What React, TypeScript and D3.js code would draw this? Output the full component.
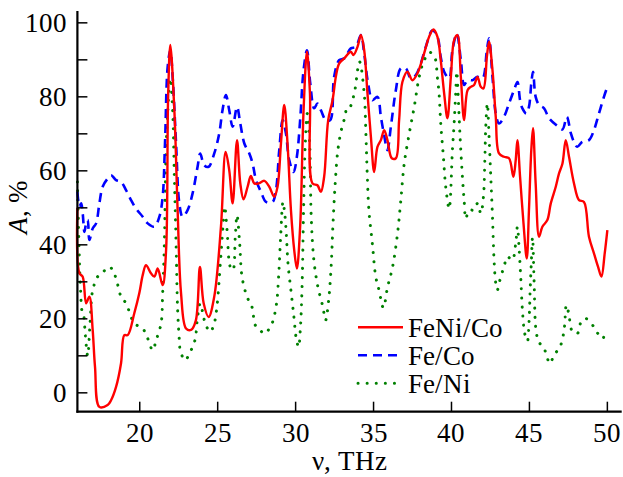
import React from "react";
import { scaleLinear, line, curveCatmullRom } from "d3";

// FeNi/Co absorption
const feNiCoNu = [16.0, 16.13, 16.34, 16.56, 16.77, 16.98, 17.13, 17.41, 17.94, 18.16, 18.48, 18.8, 19.01, 19.23, 19.65, 19.97, 20.19, 20.4, 20.72, 20.94, 21.15, 21.47, 21.69, 21.82, 21.96, 22.22, 22.43, 22.65, 22.97, 23.29, 23.6, 23.86, 24.1, 24.42, 24.78, 25.21, 25.51, 25.74, 25.96, 26.24, 26.45, 26.66, 26.92, 27.13, 27.35, 27.62, 27.99, 28.31, 28.63, 28.84, 29.06, 29.27, 29.48, 29.7, 29.91, 30.08, 30.29, 30.51, 30.73, 30.92, 31.08, 31.4, 31.62, 31.83, 32.09, 32.37, 32.58, 32.79, 33.12, 33.54, 33.71, 33.97, 34.19, 34.4, 34.61, 34.83, 35.04, 35.25, 35.47, 35.68, 35.89, 36.17, 36.43, 36.64, 36.85, 37.17, 37.49, 37.81, 38.24, 38.56, 38.84, 39.1, 39.31, 39.53, 39.74, 39.96, 40.17, 40.38, 40.6, 40.81, 41.03, 41.24, 41.45, 41.67, 41.88, 42.05, 42.27, 42.41, 42.63, 42.84, 43.05, 43.37, 43.69, 43.97, 44.12, 44.23, 44.4, 44.62, 44.83, 44.97, 45.12, 45.23, 45.4, 45.62, 45.83, 46.15, 46.37, 46.69, 46.9, 47.12, 47.33, 47.54, 47.86, 48.18, 48.5, 48.82, 49.14, 49.4, 49.62, 49.83, 50.0];
const feNiCoA = [50, 32.3, 31.4, 24.2, 26, 17, 7, -3.8, -3.3, -2, 1.6, 8, 15.6, 15.6, 21.5, 26.9, 31.8, 34.5, 32.3, 31.4, 33.6, 29.1, 38.6, 80, 94, 76.4, 49.4, 26.9, 17.4, 17, 19.6, 34, 24.2, 20.5, 26, 44.9, 65.1, 60.2, 51.2, 68.3, 56.6, 52.3, 55.7, 58.6, 56.6, 56.6, 57.3, 55.7, 53, 55.7, 67.4, 77.8, 67.4, 49.4, 38.6, 33.6, 44.9, 76.4, 92.2, 80.9, 56.6, 56.1, 54.3, 58.4, 73.7, 79.1, 85.4, 89, 90.4, 92.2, 91.3, 93.5, 96.7, 92.6, 80.9, 69.2, 59.7, 66.5, 68.3, 71, 68.3, 63.4, 63.4, 73.7, 84, 86.8, 84.5, 86.3, 91.7, 96.2, 98.2, 96.2, 89.9, 80.9, 74.2, 85.4, 95.3, 96.7, 85.4, 73.7, 81.8, 82.7, 83.2, 85.4, 82.7, 82.3, 90.8, 94.9, 87.2, 74.6, 64.7, 63.8, 63.4, 58.4, 62.9, 68.3, 58.4, 45.8, 36.3, 49.4, 65.6, 71.5, 56.6, 42.2, 44.9, 46.7, 51.2, 55.7, 59.3, 62, 68.3, 63.8, 56.6, 52.1, 51.6, 42.2, 37.7, 34.1, 31.4, 37.7, 44];

// Fe/Co
const feCoNu = [16.0, 16.13, 16.24, 16.34, 16.45, 16.56, 16.66, 16.77, 16.98, 17.2, 17.41, 17.62, 17.94, 18.16, 18.48, 18.8, 19.12, 19.44, 19.76, 20.19, 20.51, 20.94, 21.26, 21.47, 21.62, 21.79, 21.96, 22.11, 22.33, 22.54, 22.75, 23.07, 23.39, 23.71, 23.88, 24.14, 24.42, 24.78, 25.1, 25.31, 25.53, 25.74, 25.96, 26.24, 26.45, 26.71, 27.03, 27.24, 27.46, 27.78, 28.1, 28.52, 28.74, 28.95, 29.17, 29.38, 29.59, 29.87, 30.08, 30.29, 30.51, 30.73, 30.94, 31.19, 31.4, 31.62, 31.94, 32.22, 32.47, 32.79, 33.12, 33.54, 33.86, 34.19, 34.4, 34.65, 34.93, 35.25, 35.47, 35.68, 35.89, 36.11, 36.43, 36.75, 37.07, 37.39, 37.71, 38.03, 38.35, 38.78, 39.1, 39.31, 39.53, 39.85, 40.06, 40.34, 40.6, 40.81, 41.03, 41.35, 41.67, 41.99, 42.27, 42.41, 42.63, 42.84, 43.05, 43.37, 43.69, 44.01, 44.23, 44.4, 44.55, 44.8, 44.97, 45.12, 45.23, 45.4, 45.62, 45.94, 46.26, 46.8, 47.12, 47.4, 47.66, 47.86, 48.07, 48.39, 48.82, 49.14, 49.46, 49.78, 50.0];
const feCoA = [54.3, 50.3, 51.2, 48.5, 43.5, 45.8, 46.7, 41.3, 44.4, 45.8, 51.2, 55.7, 57.9, 58.8, 57.5, 57, 54.8, 52.1, 49.8, 47.6, 45.8, 44.9, 47.6, 53, 67.4, 88, 92.6, 85.4, 67.4, 51.2, 47.6, 49.4, 53.9, 61.1, 64.7, 61.5, 61.1, 64.7, 70.1, 76.4, 80.5, 76.4, 71.9, 77.3, 72.8, 67.4, 64.7, 62, 57.5, 54.3, 51.6, 51.6, 54.8, 65.6, 73.7, 70.1, 62.9, 59.7, 63.8, 73.7, 87.2, 92.6, 83.6, 76.9, 78.2, 76.4, 73.7, 73.7, 85.4, 89.9, 90.4, 93.1, 93.5, 96.7, 91.7, 83.6, 79.1, 80, 74.6, 69.6, 65.6, 71.9, 81.8, 87.7, 87.7, 85, 85.9, 89, 93.5, 98, 96.2, 90.8, 86.8, 85, 92.6, 97.1, 89.9, 83.2, 84.5, 84.5, 85.4, 85, 92.6, 95.8, 85.4, 75.5, 72.8, 74.6, 78.2, 81.8, 84, 79.1, 76.9, 75.5, 77.3, 83.6, 86.8, 80, 77.8, 76.9, 74.2, 72.1, 71.2, 74.6, 70.1, 67.8, 66.5, 67.8, 68.3, 71, 75.5, 80, 82.7];

// Fe/Ni
const feNiNu = [16.0, 16.1, 16.2, 16.3, 16.4, 16.5, 16.66, 16.8, 16.95, 17.1, 17.3, 17.6, 17.94, 18.2, 18.48, 18.8, 19.12, 19.65, 20.19, 20.51, 20.83, 21.05, 21.37, 21.47, 21.58, 21.69, 21.8, 21.96, 22.11, 22.22, 22.33, 22.43, 22.54, 22.6, 22.9, 23.24, 23.54, 23.71, 23.88, 24.05, 24.2, 24.52, 24.78, 24.95, 25.17, 25.34, 25.45, 25.6, 25.81, 25.98, 26.13, 26.24, 26.41, 26.56, 26.88, 27.2, 27.41, 27.6, 27.97, 28.44, 28.76, 28.91, 29.04, 29.19, 29.3, 29.4, 29.51, 29.72, 29.89, 30.04, 30.19, 30.31, 30.42, 30.51, 30.62, 30.75, 30.9, 31.0, 31.17, 31.43, 31.75, 31.92, 32.12, 32.29, 32.39, 32.54, 32.71, 32.93, 33.14, 33.3, 33.44, 33.76, 34.1, 34.4, 34.5, 34.6, 34.7, 34.92, 35.14, 35.35, 35.63, 35.9, 36.22, 36.54, 36.75, 36.97, 37.29, 37.61, 37.93, 38.25, 38.6, 38.9, 39.1, 39.2, 39.31, 39.48, 39.63, 39.85, 40.06, 40.17, 40.27, 40.34, 40.42, 40.55, 40.7, 40.81, 40.92, 41.13, 41.45, 41.67, 41.88, 42.05, 42.14, 42.2, 42.3, 42.41, 42.52, 42.63, 42.73, 42.84, 42.94, 43.16, 43.37, 43.58, 43.9, 44.12, 44.23, 44.33, 44.44, 44.55, 44.7, 44.87, 44.97, 45.05, 45.12, 45.2, 45.3, 45.42, 45.6, 45.94, 46.15, 46.32, 46.58, 46.96, 47.17, 47.26, 47.37, 47.54, 47.71, 48.07, 48.28, 48.6, 49.14, 49.46, 49.71, 49.88];
const feNiA = [57, 40, 28, 22, 21, 16, 10, 18, 27, 29.5, 31.4, 32.3, 34, 33.6, 30.9, 26, 24.2, 18.8, 17.4, 14.7, 11.5, 14.2, 18.8, 26.9, 40.4, 65.6, 76.4, 85, 76.4, 58.4, 40.4, 22.4, 14.2, 11.5, 8.8, 11.1, 14.2, 20.5, 24.2, 21.5, 18.8, 16.5, 18.8, 23.2, 35, 44.9, 50.3, 44, 34, 33.2, 42.2, 48, 40.4, 31.4, 26, 23.2, 18.3, 17.8, 16, 18.3, 23.7, 31.4, 42.2, 51.6, 48.5, 43.1, 35, 26.9, 20.5, 14.7, 12.4, 17.8, 29.6, 49.4, 67.4, 75.5, 67.4, 47.6, 35.9, 28.6, 23.2, 19.6, 25, 35, 44.9, 56.6, 65.6, 71, 74.2, 76.9, 76.9, 80.9, 89.5, 80.9, 71, 58.4, 49.4, 40.4, 31.4, 27.8, 23, 28.6, 34, 43.1, 52.1, 62, 70.1, 77.3, 85.4, 89.9, 92, 91, 85, 81, 72.8, 63.8, 55.7, 49.8, 65.6, 72.8, 80.9, 86.8, 80.9, 69.2, 58.4, 52.1, 47.1, 49.4, 49.4, 51.2, 48.5, 53, 62.9, 71.9, 78.2, 69.2, 58.4, 47.6, 35.9, 29.6, 27.8, 31.4, 34, 36.8, 35.9, 40.4, 44.9, 39.5, 31.4, 22.4, 16, 14, 18.8, 28, 35, 42, 30, 17, 13.8, 12, 9.3, 7.9, 10.2, 12.4, 15.6, 18.3, 23.7, 21, 17, 16, 18.8, 20.1, 17.8, 15.6, 14.7, 17.4];

const xTicks = [20, 25, 30, 35, 40, 45, 50];
const yTicks = [0, 20, 40, 60, 80, 100];
const yMinorTicks = [10, 30, 50, 70, 90];
const seriesNames = ["FeNi/Co", "Fe/Co", "Fe/Ni"];

const W = 623;
const H = 477;
const FS = 27;
const FONT_CSS = `
@font-face { font-family: 'ChartSerif'; font-style: normal; font-weight: 400; font-display: swap;
  src: local('Liberation Serif'), local('LiberationSerif'), local('Times New Roman'); }
@font-face { font-family: 'ChartSerif'; font-style: italic; font-weight: 400; font-display: swap;
  src: local('Liberation Serif Italic'), local('LiberationSerif-Italic'); }
.chart-text { font-family: 'ChartSerif', 'Liberation Serif', 'Times New Roman', serif; font-size: ${FS}px; }
`;

const x = scaleLinear().domain([16, 50.92]).range([77.4, 621.7]);
const y = scaleLinear().domain([-5.1, 103.2]).range([411.7, 11]);

const toPts = (xs: number[], ys: number[]) => xs.map((v, i) => [v, ys[i]] as [number, number]);

const path = line<[number, number]>()
  .x(d => x(d[0]))
  .y(d => y(d[1]))
  .curve(curveCatmullRom.alpha(0.5));

const styles = [
  { color: "#ff0000", dash: undefined as string | undefined, width: 2.4, cap: "butt" },
  { color: "#0000ff", dash: "9 6", width: 2.6, cap: "butt" },
  { color: "#008000", dash: "0.1 9", width: 3, cap: "round" },
];

export default function App() {
  const series = [
    toPts(feNiCoNu, feNiCoA),
    toPts(feCoNu, feCoA),
    toPts(feNiNu, feNiA),
  ];
  const x0 = x.range()[0];
  const x1 = x.range()[1];
  const yBot = y.range()[0];
  const yTop = y.range()[1];

  return (
    <div style={{ position: "absolute", left: 0, top: 0 }}>
      <style>{FONT_CSS}</style>
      <svg width={W} height={H}>
        {/* curves, drawn back to front */}
        {[2, 1, 0].map(i => (
          <path
            key={i}
            d={path(series[i]) || ""}
            fill="none"
            stroke={styles[i].color}
            strokeWidth={styles[i].width}
            strokeDasharray={styles[i].dash}
            strokeLinecap={styles[i].cap as any}
            strokeLinejoin="round"
          />
        ))}

        {/* axes */}
        <line x1={x0} x2={x0} y1={yTop} y2={yBot + 1} stroke="#000" strokeWidth={2.2} />
        <line x1={x0 - 1} x2={x1} y1={yBot} y2={yBot} stroke="#000" strokeWidth={2.2} />
        {yTicks.concat(yMinorTicks).map(t => (
          <line key={"yt" + t} x1={x0} x2={x0 + 10} y1={y(t)} y2={y(t)} stroke="#000" strokeWidth={1.5} />
        ))}
        {xTicks.map(t => (
          <line key={"xt" + t} x1={x(t)} x2={x(t)} y1={yBot} y2={yBot - 10} stroke="#000" strokeWidth={1.5} />
        ))}
        {yTicks.map(t => (
          <text key={"yl" + t} className="chart-text" x={67} y={y(t) + 9} textAnchor="end">
            {t}
          </text>
        ))}
        {xTicks.map(t => (
          <text key={"xl" + t} className="chart-text" x={x(t)} y={442} textAnchor="middle">
            {t}
          </text>
        ))}

        {/* axis titles */}
        <text className="chart-text" x={(x0 + x1) / 2} y={470} textAnchor="middle">
          ν, THz
        </text>
        <text className="chart-text" transform={`translate(27, ${(yTop + yBot) / 2 - 4}) rotate(-90)`} textAnchor="middle">
          <tspan fontStyle="italic">A</tspan>, %
        </text>

        {/* legend */}
        {seriesNames.map((name, i) => {
          const ly = 327.3 + i * 28;
          return (
            <g key={name}>
              <line
                x1={358}
                x2={403}
                y1={ly}
                y2={ly}
                stroke={styles[i].color}
                strokeWidth={styles[i].width}
                strokeDasharray={styles[i].dash}
                strokeLinecap={styles[i].cap as any}
              />
              <text className="chart-text" x={408} y={ly + 9.4}>
                {name}
              </text>
            </g>
          );
        })}
      </svg>
    </div>
  );
}
